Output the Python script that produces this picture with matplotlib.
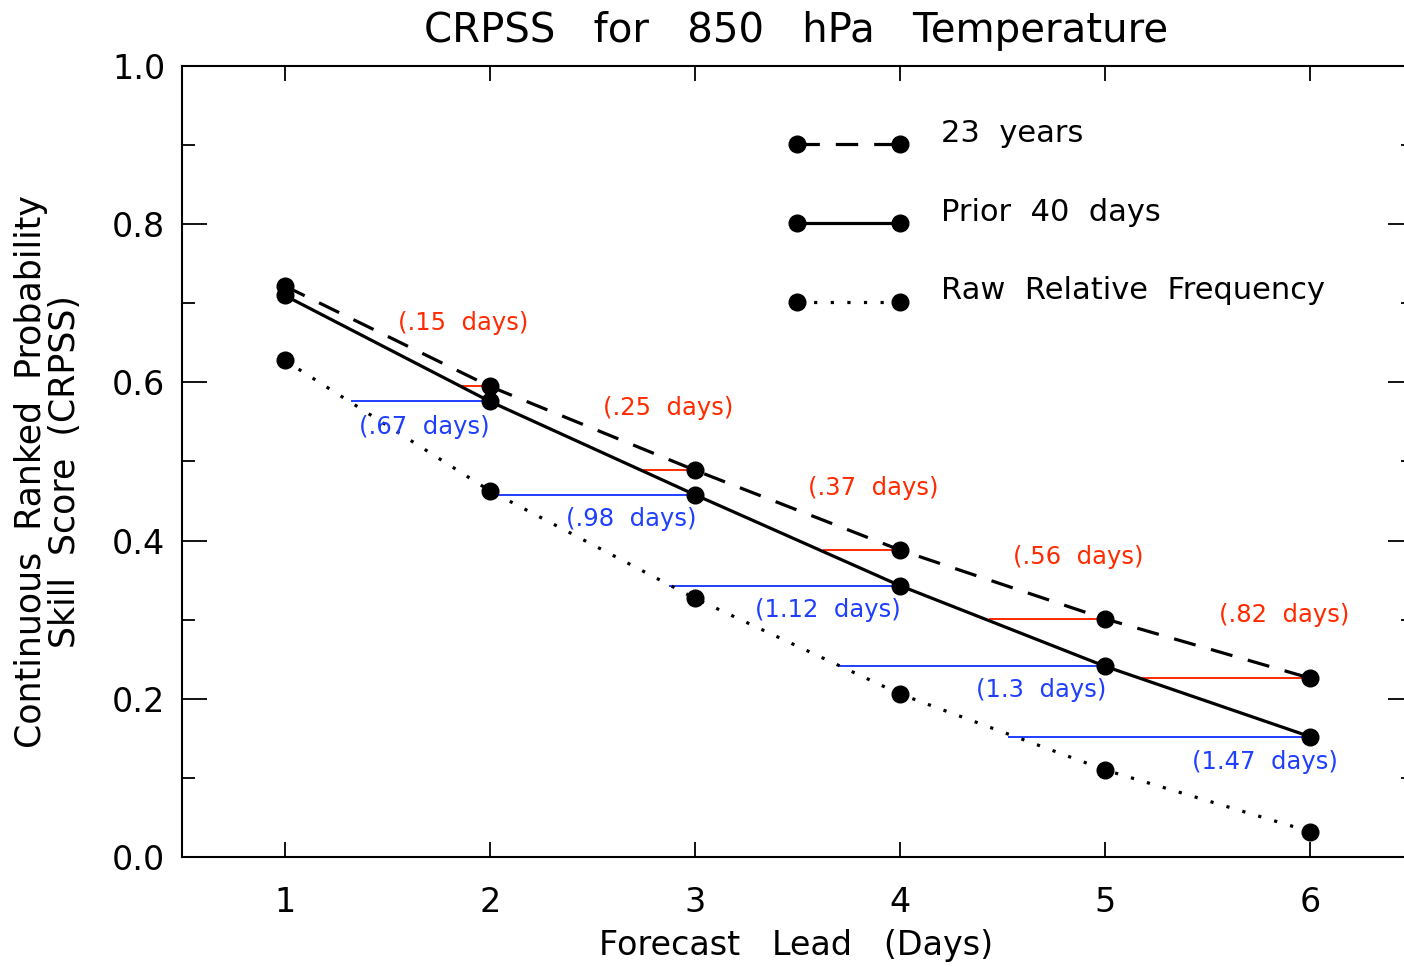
import matplotlib
matplotlib.use("Agg")
import matplotlib.pyplot as plt
from matplotlib.ticker import MultipleLocator, FormatStrFormatter

plt.rcParams['font.family'] = ['DejaVu Sans']

days = [1, 2, 3, 4, 5, 6]
crpss_23yr = [0.722, 0.595, 0.489, 0.388, 0.301, 0.226]
crpss_prior40 = [0.710, 0.576, 0.458, 0.343, 0.241, 0.152]
crpss_raw = [0.628, 0.463, 0.327, 0.206, 0.110, 0.032]

# lead-time gains (days)
gain_red = [0.15, 0.25, 0.37, 0.56, 0.82]     # 23 years vs prior 40 days
gain_blue = [0.67, 0.98, 1.12, 1.30, 1.47]   # prior 40 days vs raw
red_labels = ["(.15 days)", "(.25 days)", "(.37 days)", "(.56 days)", "(.82 days)"]
blue_labels = ["(.67 days)", "(.98 days)", "(1.12 days)", "(1.3 days)", "(1.47 days)"]

legend_names = ["23 years", "Prior 40 days", "Raw Relative Frequency"]

# label placement (layout)
red_pos = [(1.87, 0.675), (2.87, 0.568), (3.87, 0.467), (4.87, 0.379), (5.87, 0.306)]
blue_pos = [(1.68, 0.544), (2.69, 0.427), (3.65, 0.312), (4.69, 0.211), (5.78, 0.120)]

W, H = 1404, 967
fig = plt.figure(figsize=(W / 100, H / 100), dpi=100)
ax = fig.add_axes([182 / W, 1 - 857 / H, (1413 - 182) / W, (857 - 66) / H])

lw = 2.3
ms = 12
ax.plot(days, crpss_23yr, color='black', lw=lw, linestyle=(0, (7, 5)), marker='o', ms=ms, zorder=3)
ax.plot(days, crpss_prior40, color='black', lw=lw, linestyle='-', marker='o', ms=ms, zorder=3)
ax.plot(days, crpss_raw, color='black', lw=lw, linestyle=(0, (1, 4.2)), marker='o', ms=ms, zorder=3)

red = '#ff2a00'
blue = '#1f3fff'
lab_fs = 17.5
for i, g in enumerate(gain_red):
    d = days[i + 1]
    v = crpss_23yr[i + 1]
    ax.plot([d - g, d], [v, v], color=red, lw=1.4, zorder=2)
    ax.text(red_pos[i][0], red_pos[i][1], red_labels[i].replace(" ", "  "), color=red,
            fontsize=lab_fs, ha='center', va='center')
for i, g in enumerate(gain_blue):
    d = days[i + 1]
    v = crpss_prior40[i + 1]
    ax.plot([d - g, d], [v, v], color=blue, lw=1.4, zorder=2)
    ax.text(blue_pos[i][0], blue_pos[i][1], blue_labels[i].replace(" ", "  "), color=blue,
            fontsize=lab_fs, ha='center', va='center')

# manual legend
styles = [(0, (7, 5)), '-', (0, (1, 4.2))]
ly = [0.901, 0.801, 0.702]
for name, st, y in zip(legend_names, styles, ly):
    ax.plot([3.5, 4.0], [y, y], color='black', lw=lw, linestyle=st, zorder=3)
    ax.plot([3.5, 4.0], [y, y], color='black', lw=0, marker='o', ms=ms, zorder=3)
    ax.text(4.2, y + 0.003, name.replace(" ", "  "), fontsize=22, ha='left', va='baseline')

ax.set_xlim(0.5, 6.5)
ax.set_ylim(0.0, 1.0)
ax.set_xticks(days)
ax.yaxis.set_major_locator(MultipleLocator(0.2))
ax.yaxis.set_minor_locator(MultipleLocator(0.1))
ax.yaxis.set_major_formatter(FormatStrFormatter('%.1f'))
ax.tick_params(axis='x', which='major', direction='in', length=11, width=1.3,
               top=True, bottom=True, labelsize=24, pad=21)
ax.tick_params(axis='y', which='major', direction='in', length=18, width=1.3,
               left=True, right=True, labelsize=24, pad=12)
ax.tick_params(axis='y', which='minor', direction='in', length=9, width=1.3,
               left=True, right=True)
for s in ax.spines.values():
    s.set_linewidth(1.5)

fig.text(796 / W, 1 - 31 / H, "CRPSS   for   850   hPa   Temperature", fontsize=29,
         ha='center', va='center')
fig.text(796 / W, 1 - 945 / H, "Forecast   Lead   (Days)", fontsize=24,
         ha='center', va='center')
fig.text(48 / W, 1 - 472 / H, "Continuous  Ranked  Probability\nSkill  Score  (CRPSS)",
         fontsize=25, rotation=90, ha='center', va='center', multialignment='center',
         linespacing=1.0)

fig.savefig("out.png", dpi=100)
